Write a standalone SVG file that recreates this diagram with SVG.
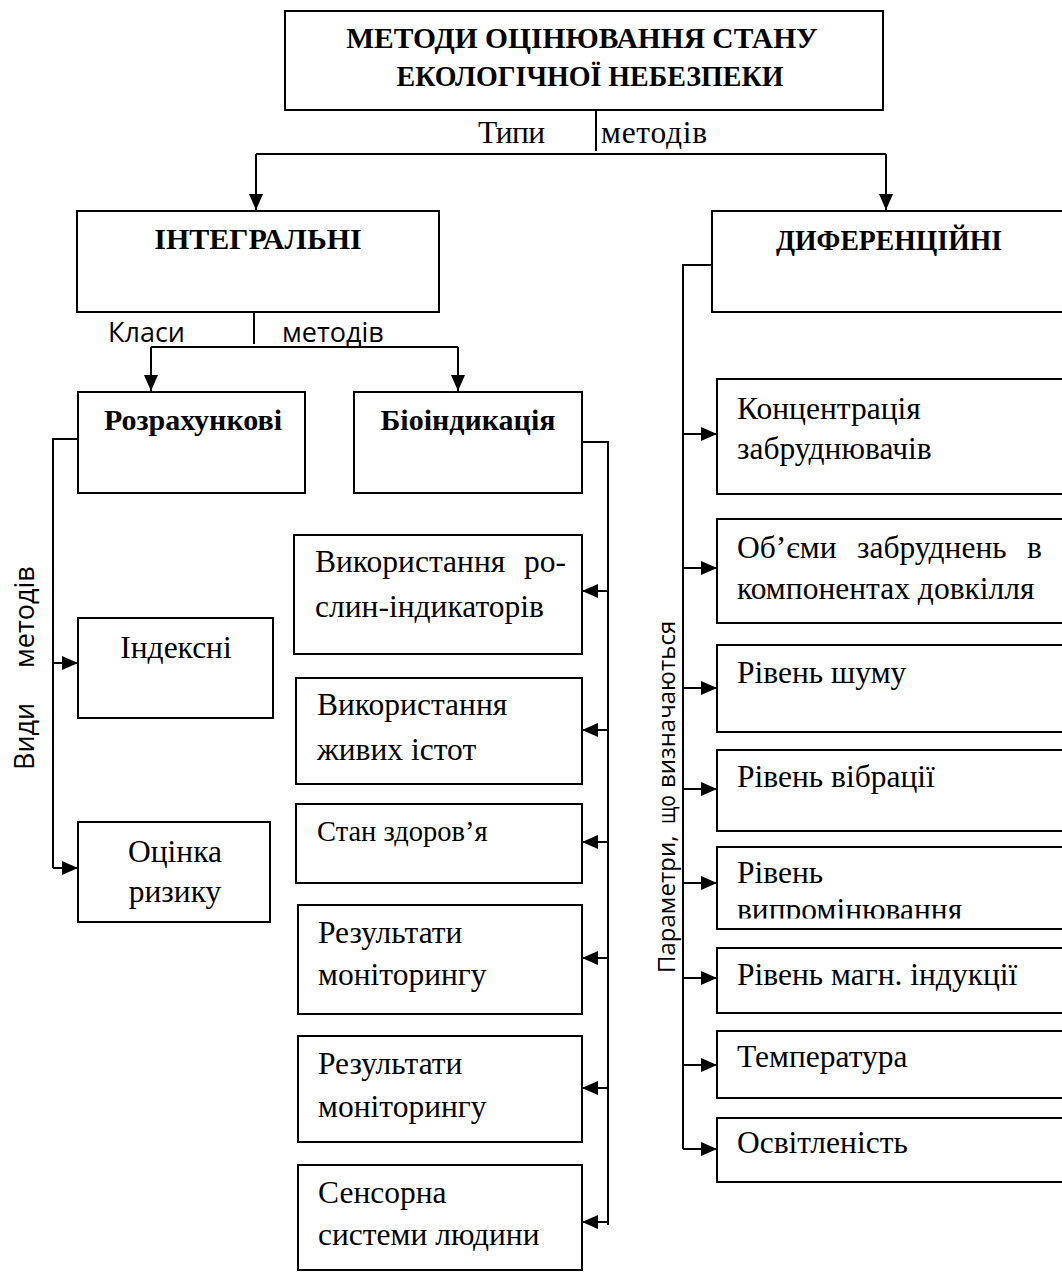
<svg xmlns="http://www.w3.org/2000/svg" width="1062" height="1272" viewBox="0 0 1062 1272">
<style>
.box{fill:#fff;stroke:#000;stroke-width:2}
.ln{fill:none;stroke:#000;stroke-width:2}
.ar{fill:none;stroke:#000;stroke-width:2;marker-end:url(#arr)}
.t{font-family:"Liberation Serif","Times New Roman",serif;font-size:31.5px;fill:#000}
.b{font-family:"Liberation Serif","Times New Roman",serif;font-size:30px;font-weight:bold;fill:#000}
.s{font-family:"Open Sans","Liberation Sans",sans-serif;font-size:27px;fill:#000}
.s2{font-family:"Open Sans","Liberation Sans",sans-serif;font-size:24px;fill:#000}
.c{text-anchor:middle}
</style>
<defs>
<marker id="arr" viewBox="0 0 16 14" refX="16" refY="7" markerWidth="16" markerHeight="14" markerUnits="userSpaceOnUse" orient="auto">
<path d="M0,0 L16,7 L0,14 z" fill="#000"/>
</marker>
<clipPath id="clipRad"><rect x="717" y="847" width="345" height="71.5"/></clipPath>
</defs>
<rect width="1062" height="1272" fill="#fff"/>

<g id="connectors">
<path class="ln" d="M596,110 V151"/>
<path class="ln" d="M256,154 H886"/>
<path class="ar" d="M256,154 V210"/>
<path class="ar" d="M886,154 V210"/>
<path class="ln" d="M254,312 V344"/>
<path class="ln" d="M151,347 H458"/>
<path class="ar" d="M151,347 V391"/>
<path class="ar" d="M458,347 V391"/>
<path class="ln" d="M78,439 H53 V868"/>
<path class="ar" d="M53,663 H78"/>
<path class="ar" d="M53,868 H78"/>
<path class="ln" d="M582,442 H608 V1225"/>
<path class="ar" d="M608,591 H582"/>
<path class="ar" d="M608,730 H582"/>
<path class="ar" d="M608,842 H582"/>
<path class="ar" d="M608,958 H582"/>
<path class="ar" d="M608,1088 H582"/>
<path class="ar" d="M608,1222 H582"/>
<path class="ln" d="M712,265 H683 V1149"/>
<path class="ar" d="M683,434 H717"/>
<path class="ar" d="M683,568 H717"/>
<path class="ar" d="M683,688 H717"/>
<path class="ar" d="M683,789 H717"/>
<path class="ar" d="M683,883 H717"/>
<path class="ar" d="M683,978 H717"/>
<path class="ar" d="M683,1065 H717"/>
<path class="ar" d="M683,1149 H717"/>
</g>

<g id="edge-labels">
<text class="t" x="478" y="143" textLength="67">Типи</text>
<text class="t" x="601" y="143" textLength="106">методів</text>
<text class="s" x="108" y="342">Класи</text>
<text class="s" x="282" y="342">методів</text>
<g transform="translate(34 0) rotate(-90)">
<text class="s" x="-770" y="0">Види</text>
<text class="s" x="-668" y="0">методів</text>
</g>
<g transform="translate(675 0) rotate(-90)">
<text class="s2" x="-973" y="0">Параметри,</text>
<text class="s2" x="-824" y="0" textLength="29" lengthAdjust="spacingAndGlyphs">що</text>
<text class="s2" x="-788" y="0">визначаються</text>
</g>
</g>

<g id="n-root">
<rect class="box" x="285" y="11" width="598" height="99"/>
<text class="b c" x="582" y="48" style="font-size:29.5px">МЕТОДИ ОЦІНЮВАННЯ СТАНУ</text>
<text class="b c" x="590" y="86" style="font-size:29.5px" textLength="387" lengthAdjust="spacingAndGlyphs">ЕКОЛОГІЧНОЇ НЕБЕЗПЕКИ</text>
</g>

<g id="n-integral">
<rect class="box" x="77" y="211" width="362" height="101"/>
<text class="b c" x="258" y="249">ІНТЕГРАЛЬНІ</text>
</g>

<g id="n-diff">
<rect class="box" x="712" y="211" width="400" height="101"/>
<text class="b c" x="889" y="250" textLength="226" lengthAdjust="spacingAndGlyphs">ДИФЕРЕНЦІЙНІ</text>
</g>

<g id="n-rozrah">
<rect class="box" x="78" y="392" width="227" height="101"/>
<text class="b c" x="193" y="430">Розрахункові</text>
</g>

<g id="n-bio">
<rect class="box" x="354" y="392" width="228" height="101"/>
<text class="b c" x="468" y="430">Біоіндикація</text>
</g>

<g id="n-index">
<rect class="box" x="78" y="618" width="195" height="100"/>
<text class="t c" x="176" y="658">Індексні</text>
</g>

<g id="n-risk">
<rect class="box" x="78" y="822" width="192" height="100"/>
<text class="t c" x="175" y="862">Оцінка</text>
<text class="t c" x="175" y="902">ризику</text>
</g>

<g id="n-plants">
<rect class="box" x="294" y="535" width="288" height="119"/>
<text class="t" x="315" y="572">Використання <tspan x="524">ро-</tspan></text>
<text class="t" x="315" y="617">слин-індикаторів</text>
</g>

<g id="n-living">
<rect class="box" x="296" y="678" width="286" height="106"/>
<text class="t" x="317" y="715">Використання</text>
<text class="t" x="317" y="760">живих істот</text>
</g>

<g id="n-health">
<rect class="box" x="296" y="804" width="286" height="79"/>
<text class="t" x="317" y="841" style="font-size:28.5px">Стан здоров’я</text>
</g>

<g id="n-monitor1">
<rect class="box" x="298" y="905" width="284" height="109"/>
<text class="t" x="318" y="943">Результати</text>
<text class="t" x="318" y="985">моніторингу</text>
</g>

<g id="n-monitor2">
<rect class="box" x="298" y="1036" width="284" height="106"/>
<text class="t" x="318" y="1074">Результати</text>
<text class="t" x="318" y="1117">моніторингу</text>
</g>

<g id="n-sensor">
<rect class="box" x="298" y="1165" width="284" height="105"/>
<text class="t" x="318" y="1203">Сенсорна</text>
<text class="t" x="318" y="1245">системи людини</text>
</g>

<g id="n-conc">
<rect class="box" x="717" y="379" width="400" height="115"/>
<text class="t" x="737" y="419">Концентрація</text>
<text class="t" x="737" y="459">забруднювачів</text>
</g>

<g id="n-volume">
<rect class="box" x="717" y="519" width="400" height="104"/>
<text class="t" x="737" y="558">Об’єми<tspan x="857">забруднень</tspan><tspan x="1027">в</tspan></text>
<text class="t" x="737" y="599">компонентах довкілля</text>
</g>

<g id="n-noise">
<rect class="box" x="717" y="645" width="400" height="87"/>
<text class="t" x="737" y="683">Рівень шуму</text>
</g>

<g id="n-vibr">
<rect class="box" x="717" y="750" width="400" height="81"/>
<text class="t" x="737" y="787">Рівень вібрації</text>
</g>

<g id="n-rad">
<rect class="box" x="717" y="847" width="400" height="82"/>
<text class="t" x="737" y="883">Рівень</text>
<text class="t" x="737" y="920" clip-path="url(#clipRad)">випромінювання</text>
</g>

<g id="n-magn">
<rect class="box" x="717" y="948" width="400" height="65"/>
<text class="t" x="737" y="985">Рівень магн. індукції</text>
</g>

<g id="n-temp">
<rect class="box" x="717" y="1031" width="400" height="67"/>
<text class="t" x="737" y="1067">Температура</text>
</g>

<g id="n-light">
<rect class="box" x="717" y="1118" width="400" height="64"/>
<text class="t" x="737" y="1153">Освітленість</text>
</g>
</svg>
